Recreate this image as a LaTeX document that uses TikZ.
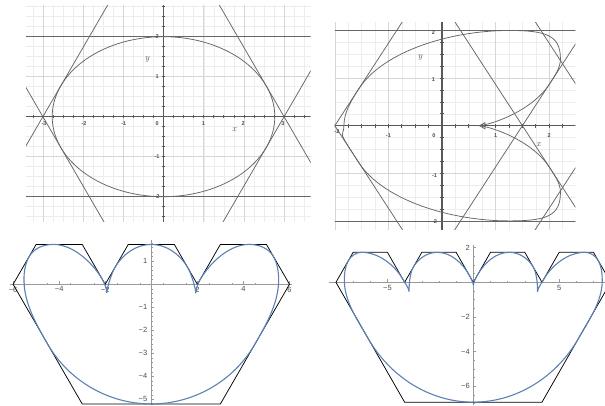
\documentclass[tikz,border=0pt]{standalone}
\usepackage{fontspec}
\newfontfamily\lsans{Liberation Sans}
\definecolor{mblue}{RGB}{94,129,181}
\definecolor{gmin}{gray}{0.93}
\definecolor{gmaj}{gray}{0.84}
\definecolor{gax}{gray}{0.35}
\definecolor{gcur}{gray}{0.40}
\definecolor{mtick}{gray}{0.60}
\definecolor{mlab}{gray}{0.30}
\begin{document}
\begin{tikzpicture}[
  gminor/.style={gmin, line width=0.4pt},
  gmajor/.style={gmaj, line width=0.5pt},
  gaxis/.style={gax, line width=1.1pt},
  gtick/.style={gax, line width=0.7pt},
  gcurve/.style={gcur, line width=0.75pt},
  glab/.style={font=\lsans\bfseries\fontsize{5.5}{6}\selectfont, text=black!70, inner sep=0pt},
  gvar/.style={font=\itshape\fontsize{9}{10}\selectfont, text=black!65, inner sep=0pt},
  maxis/.style={mtick, line width=0.5pt},
  mtk/.style={mtick, line width=0.45pt},
  poly/.style={black, line width=0.75pt, line join=miter},
  bcurve/.style={mblue, line width=1.1pt, line join=round},
  mlabel/.style={font=\lsans\fontsize{7.5}{8}\selectfont, text=mlab, inner sep=0pt}
]
\useasboundingbox (0,0) rectangle (605pt,406pt);
\fill[white] (0,0) rectangle (605pt,406pt);
\clip (0,0) rectangle (605pt,406pt);

% ---------- top left: ellipse ----------
\begin{scope}[shift={(163.5pt,289.3pt)}, x=40.2pt, y=40pt]
  \begin{scope}
    \clip (-3.42,-2.63) rectangle (3.66,2.77);
    \draw[gminor] (-3.5,-2.75) grid[step=0.25] (3.75,3);
    \draw[gmajor] (-4,-3) grid[step=1] (4,3);
    \draw[gaxis] (-3.5,0) -- (3.7,0);
    \draw[gaxis] (0,-2.7) -- (0,2.8);
    \foreach \t in {-13,...,14} \draw[gtick] (\t*0.25,-0.045) -- (\t*0.25,0.045);
    \foreach \t in {-10,...,11} \draw[gtick] (-0.045,\t*0.25) -- (0.045,\t*0.25);
    \draw[gcurve] (-3.6,2) -- (3.7,2);
    \draw[gcurve] (-3.6,-2) -- (3.7,-2);
    \draw[gcurve] (-4.6166,-2.8) -- (-1.3834,2.8);
    \draw[gcurve] (-4.6166,2.8) -- (-1.3834,-2.8);
    \draw[gcurve] (4.6166,-2.8) -- (1.3834,2.8);
    \draw[gcurve] (4.6166,2.8) -- (1.3834,-2.8);
    \draw[gcurve] plot[domain=0:360, samples=181, variable=\t] ({2.7689*cos(\t)},{2*sin(\t)});
  \end{scope}
  \foreach \v [count=\i] in {-3,-2,-1,1,2,3}
    \node[glab] (tlx\i) at (\v*0.99,-0.17) {\v};
  \node[glab] (tlx0) at (-0.16,-0.18) {0};
  \foreach \v [count=\i] in {2,1,-1,-2}
    \node[glab] (tly\i) at (-0.16,\v) {\v};
  \node[gvar] (tlvy) at (-0.41,1.43) {y};
  \node[gvar] (tlvx) at (1.76,-0.33) {x};
\end{scope}

% ---------- top right: heart ----------
\begin{scope}[shift={(442pt,280.3pt)}, x=53.6pt, y=47.6pt]
  \begin{scope}
    \clip (-2.0,-2.18) rectangle (2.49,2.16);
    \draw[gminor] (-2.25,-2.25) grid[step=0.25] (2.5,2.25);
    \draw[gmajor] (-3,-3) grid[step=1] (3,3);
    \draw[gaxis] (-2.1,0) -- (2.6,0);
    \draw[gaxis] (0,-2.3) -- (0,2.3);
    \foreach \t in {-8,...,10} \draw[gtick] (\t*0.25,-0.045) -- (\t*0.25,0.045);
    \foreach \t in {-9,...,9} \draw[gtick] (-0.04,\t*0.25) -- (0.04,\t*0.25);
    \draw[gcurve] (-2.1,2) -- (2.6,2);
    \draw[gcurve] (-2.1,-2) -- (2.6,-2);
    \draw[gcurve] (-3.3856,-2.4) -- (-0.6144,2.4);
    \draw[gcurve] (-3.3856,2.4) -- (-0.6144,-2.4);
    \draw[gcurve] (0.1144,2.4) -- (2.8856,-2.4);
    \draw[gcurve] (0.1144,-2.4) -- (2.8856,2.4);
    \draw[gcurve] (1.6144,2.4) -- (4.3856,-2.4);
    \draw[gcurve] (1.6144,-2.4) -- (4.3856,2.4);
    \draw[gcurve] (0.7,0)
      .. controls +(8:0.3) and +(240:0.6) .. (2.0,0.866)
      .. controls +(60:0.19) and +(270:0.19) .. (2.21,1.4)
      .. controls +(90:0.5) and +(0:0.7) .. (1.25,2)
      .. controls +(180:1.1) and +(60:0.9) .. (-1.55,0.779)
      .. controls +(240:0.28) and +(90:0.28) .. (-1.83,0)
      .. controls +(270:0.28) and +(120:0.9) .. (-1.55,-0.779)
      .. controls +(300:0.9) and +(180:1.1) .. (1.25,-2)
      .. controls +(0:0.7) and +(270:0.5) .. (2.21,-1.4)
      .. controls +(90:0.19) and +(300:0.19) .. (2.0,-0.866)
      .. controls +(120:0.6) and +(352:0.3) .. (0.7,0);
    \draw[gcurve] (0.7,0) -- (0.8,0.065) -- (0.8,-0.065) -- cycle;
  \end{scope}
  \node[glab] (trx1) at (-1.96,-0.13) {-2};
  \node[glab] (trx2) at (-1,-0.2) {-1};
  \node[glab] (trx0) at (-0.15,-0.2) {0};
  \node[glab] (trx3) at (1,-0.2) {1};
  \node[glab] (trx4) at (2,-0.2) {2};
  \node[glab] (try1) at (-0.16,1.96) {2};
  \node[glab] (try2) at (-0.16,0.96) {1};
  \node[glab] (try3) at (-0.14,-1.05) {-1};
  \node[glab] (try4) at (-0.14,-2.02) {-2};
  \node[gvar] (trvy) at (-0.41,1.44) {y};
  \node[gvar] (trvx) at (1.8,-0.39) {x};
\end{scope}

% ---------- bottom left: three lobes ----------
\begin{scope}[shift={(151.3pt,121.7pt)}, x=23.03pt, y=23.03pt]
  \draw[maxis] (-6.15,0) -- (6.1,0);
  \draw[maxis] (0,-5.26) -- (0,1.93);
  \foreach \t in {-6,-4,-2,2,4,6} \draw[mtk] (\t,0) -- ++(0,3pt);
  \foreach \t in {-11,-9,-7,-5,-3,-1,1,3,5,7,9,11} \draw[mtk] (\t*0.5,0) -- ++(0,1.7pt);
  \foreach \t in {-5,...,1} \draw[mtk] (0,\t) -- ++(3pt,0);
  \foreach \t in {-26,...,9} \draw[mtk] (0,\t*0.2) -- ++(1.7pt,0);
  \foreach \v/\w [count=\i] in {-6/{−6},-4/{−4},-2/{−2},2/2,4/4,6/6}
    \node[mlabel, anchor=north] (blx\i) at (\v,-0.1) {\w};
  \foreach \v/\w [count=\i] in {1/1,-1/{−1},-2/{−2},-3/{−3},-4/{−4},-5/{−5}}
    \node[mlabel, anchor=east] (bly\i) at (-0.17,\v) {\w};
  \draw[poly] (-6,0) -- (-5,1.73205) -- (-3,1.73205) -- (-2,0) -- (-1,1.73205) -- (1,1.73205)
    -- (2,0) -- (3,1.73205) -- (5,1.73205) -- (6,0) -- (3,-5.19615) -- (-3,-5.19615) -- cycle;
  \draw[bcurve] (-1.93,-0.38)
    .. controls +(92:0.15) and +(300:0.2) .. (-2.12,0.2)
    .. controls +(120:0.86) and +(0:0.86) .. (-4.25,1.732)
    .. controls +(180:0.42) and +(60:0.42) .. (-5.3,1.21)
    .. controls +(240:0.34) and +(90:0.34) .. (-5.53,0.2)
    .. controls +(270:1.0) and +(120:1.0) .. (-4.5,-2.598)
    .. controls +(300:1.85) and +(180:1.85) .. (0,-5.196)
    .. controls +(0:1.85) and +(240:1.85) .. (4.5,-2.598)
    .. controls +(60:1.0) and +(270:1.0) .. (5.53,0.2)
    .. controls +(90:0.34) and +(300:0.34) .. (5.3,1.21)
    .. controls +(120:0.42) and +(0:0.42) .. (4.25,1.732)
    .. controls +(180:0.86) and +(60:0.86) .. (2.12,0.2)
    .. controls +(240:0.2) and +(88:0.15) .. (1.93,-0.38)
    .. controls +(88:0.15) and +(300:0.35) .. (1.58,0.73)
    .. controls +(120:0.66) and +(0:0.66) .. (0,1.732)
    .. controls +(180:0.66) and +(60:0.66) .. (-1.58,0.73)
    .. controls +(240:0.35) and +(92:0.15) .. (-1.93,-0.38);
\end{scope}

% ---------- bottom right: four lobes ----------
\begin{scope}[shift={(473.3pt,123.7pt)}, x=17.17pt, y=17.3pt]
  \draw[maxis] (-8.4,0) -- (8.2,0);
  \draw[maxis] (0,-7.1) -- (0,2.16);
  \foreach \t in {-5,5} \draw[mtk] (\t,0) -- ++(0,3pt);
  \foreach \t in {-8,-7,-6,-4,-3,-2,-1,1,2,3,4,6,7,8} \draw[mtk] (\t,0) -- ++(0,1.7pt);
  \foreach \t in {-6,-4,-2,2} \draw[mtk] (0,\t) -- ++(3pt,0);
  \foreach \t in {-14,...,4} \draw[mtk] (0,\t*0.5) -- ++(1.7pt,0);
  \node[mlabel, anchor=north] (brx1) at (-5,-0.17) {−5};
  \node[mlabel, anchor=north] (brx2) at (5,-0.17) {5};
  \foreach \v/\w [count=\i] in {2/2,-2/{−2},-4/{−4},-6/{−6}}
    \node[mlabel, anchor=east] (bry\i) at (-0.2,\v) {\w};
  \draw[poly] (-8,0) -- (-7,1.73205) -- (-5,1.73205) -- (-4,0) -- (-3,1.73205) -- (-1,1.73205)
    -- (0,0) -- (1,1.73205) -- (3,1.73205) -- (4,0) -- (5,1.73205) -- (7,1.73205) -- (8,0)
    -- (4,-6.9282) -- (-4,-6.9282) -- cycle;
  \draw[bcurve] (-3.74,-0.54)
    .. controls +(92:0.18) and +(300:0.25) .. (-4.1,0.17)
    .. controls +(120:0.97) and +(0:0.97) .. (-6.5,1.732)
    .. controls +(180:0.33) and +(60:0.33) .. (-7.28,1.25)
    .. controls +(240:0.39) and +(90:0.39) .. (-7.51,0.1)
    .. controls +(270:1.2) and +(120:1.2) .. (-6.13,-3.24)
    .. controls +(300:2.55) and +(180:2.55) .. (0,-6.928)
    .. controls +(0:2.55) and +(240:2.55) .. (6.13,-3.24)
    .. controls +(60:1.2) and +(270:1.2) .. (7.51,0.1)
    .. controls +(90:0.39) and +(300:0.39) .. (7.28,1.25)
    .. controls +(120:0.33) and +(0:0.33) .. (6.5,1.732)
    .. controls +(180:0.97) and +(60:0.97) .. (4.1,0.17)
    .. controls +(240:0.25) and +(88:0.18) .. (3.74,-0.54)
    .. controls +(88:0.2) and +(300:0.45) .. (3.5,0.866)
    .. controls +(120:0.58) and +(0:0.58) .. (2.1,1.732)
    .. controls +(180:0.8) and +(60:0.8) .. (0.25,0.433)
    .. controls +(240:0.2) and +(90:0.12) .. (0,-0.16)
    .. controls +(90:0.12) and +(300:0.2) .. (-0.25,0.433)
    .. controls +(120:0.8) and +(0:0.8) .. (-2.1,1.732)
    .. controls +(180:0.58) and +(60:0.58) .. (-3.5,0.866)
    .. controls +(240:0.45) and +(92:0.2) .. (-3.74,-0.54);
\end{scope}
\end{tikzpicture}
\end{document}
